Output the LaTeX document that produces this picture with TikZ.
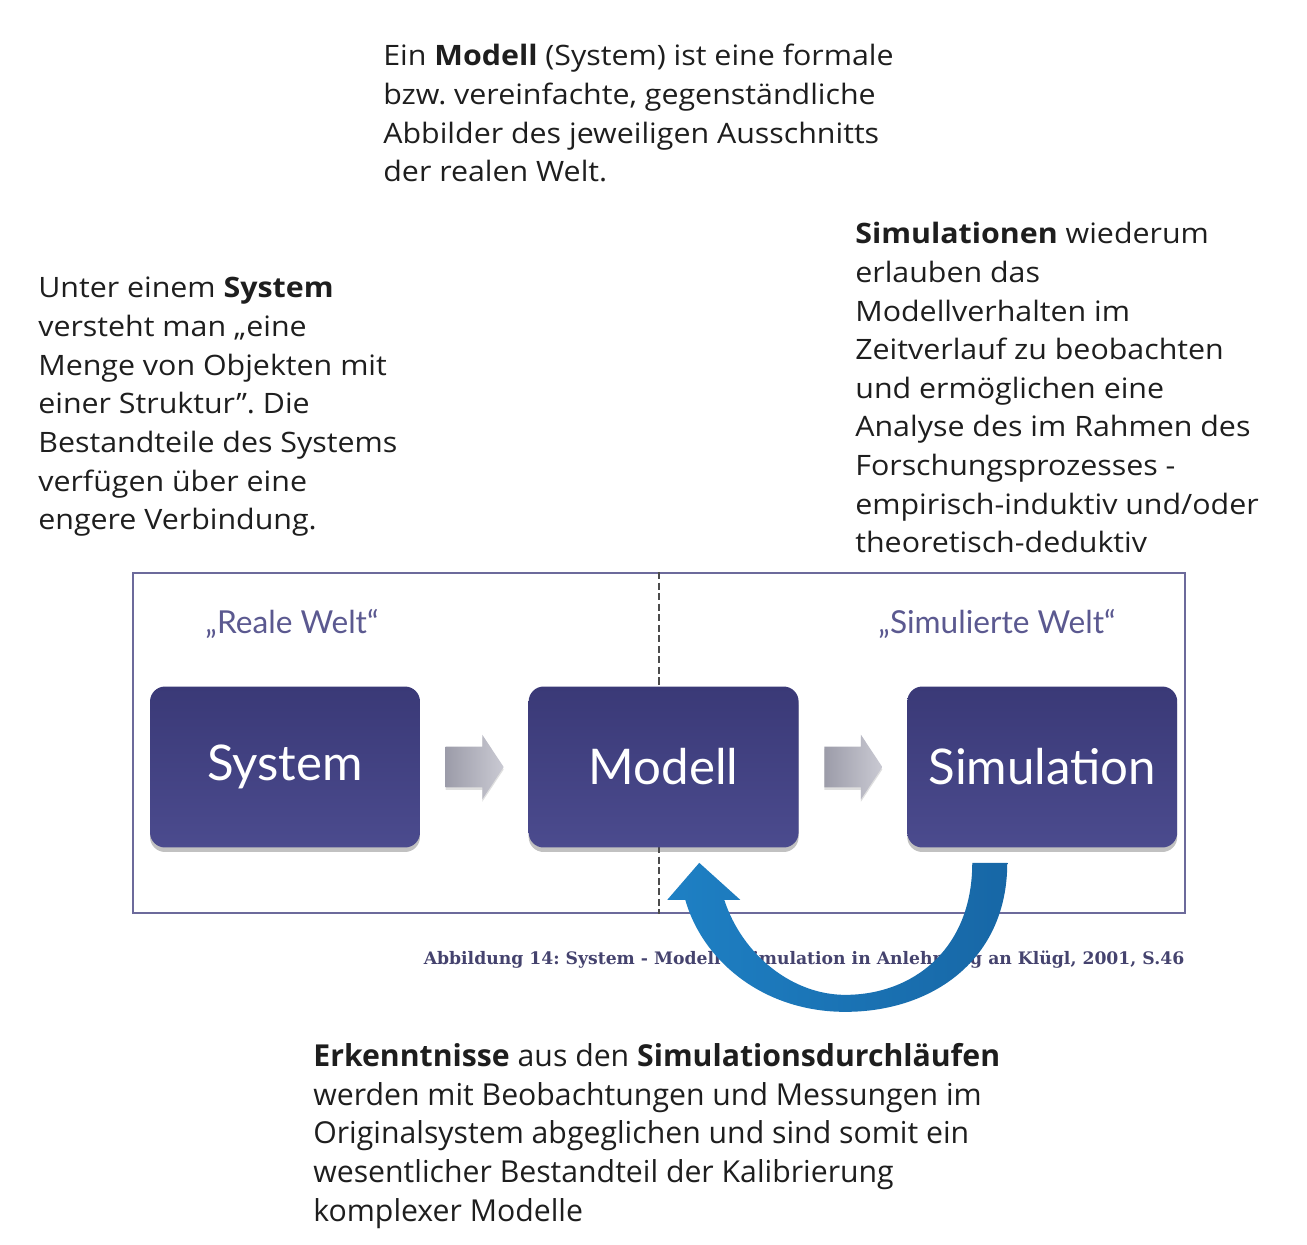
\documentclass[tikz,border=0pt]{standalone}
\usepackage{fontspec}
\usepackage{xcolor}
\usepackage{tikz}
\usetikzlibrary{positioning,calc,shapes.arrows,shadows}
\setmainfont[FakeStretch=1.08]{Open Sans}
\newfontfamily\widenote{Open Sans}
\newfontfamily\stagefont{Lato}
\newfontfamily\capfont{DejaVu Serif}
\frenchspacing
\definecolor{notegray}{HTML}{1E1E1E}
\definecolor{stagetop}{HTML}{3A3977}
\definecolor{stagebottom}{HTML}{4B4B8E}
\definecolor{framepurple}{HTML}{6C6A9B}
\definecolor{worldpurple}{HTML}{5B5990}
\definecolor{capturple}{HTML}{45436E}
\definecolor{arrowgrayA}{HTML}{9C9CA9}
\definecolor{arrowgrayB}{HTML}{CACAD3}
\definecolor{feedbackblue}{HTML}{1E80C4}
\definecolor{feedbackdark}{HTML}{1767A6}

\begin{document}
\begin{tikzpicture}[
  x=0.02cm, y=-0.02cm,
  note/.style={anchor=north west, inner sep=0pt, align=left, text=notegray, font=\fontsize{16}{22}\selectfont},
  stage/.style={rounded corners=0.3cm, minimum width=5.4cm, minimum height=3.22cm, top color=stagetop, bottom color=stagebottom, text=white, font=\stagefont\fontsize{28}{32}\selectfont, drop shadow={shadow xshift=0pt, shadow yshift=-0.09cm, opacity=0.35, fill=black!70}},
  flowarrow/.style={single arrow, inner ysep=0.4cm, inner xsep=0pt, single arrow head extend=0.24cm, single arrow tip angle=113, minimum height=1.16cm, left color=arrowgrayA, right color=arrowgrayB, drop shadow={shadow xshift=0pt, shadow yshift=-0.05cm, opacity=0.25}},
  world/.style={text=worldpurple, font=\stagefont\fontsize{18}{20}\selectfont},
  frame/.style={draw=framepurple, line width=1.1pt, minimum width=21.04cm, minimum height=6.8cm, inner sep=0pt}
]
\useasboundingbox (0,0) rectangle (1307,1244);

% texts round the diagram
\node[note] (modelltext) at (383,44) {Ein \textbf{Modell} (System) ist eine formale\\bzw. vereinfachte, gegenständliche\\Abbilder des jeweiligen Ausschnitts\\der realen Welt.};
\node[note] (systemtext) at (38,277) {Unter einem \textbf{System}\\versteht man „eine\\Menge von Objekten mit\\einer Struktur”. Die\\Bestandteile des Systems\\verfügen über eine\\engere Verbindung.};
\node[note] (simtext) at (855,222) {\textbf{Simulationen} wiederum\\erlauben das\\Modellverhalten im\\Zeitverlauf zu beobachten\\und ermöglichen eine\\Analyse des im Rahmen des\\Forschungsprozesses -\\empirisch-induktiv und/oder\\theoretisch-deduktiv};

% frame with the two worlds
\node[frame] (frame) at (659,743) {};
\draw[black!70, line width=1.1pt, dash pattern=on 4pt off 2pt] (frame.north) -- (frame.south);
\node[world] (real) at (292,624) {„Reale Welt“};
\node[world] (simulated) at (997,624) {„Simulierte Welt“};

\node[stage] (system) at (285,767) {System};
\node[stage, right=2.16cm of system] (modell) {Modell};
\node[stage, right=2.16cm of modell] (simulation) {Simulation};
\node[flowarrow, right=0.5cm of system] (arrowA) {};
\node[flowarrow, right=0.5cm of modell] (arrowB) {};

\node[text=capturple, font=\capfont\bfseries\fontsize{9.8}{11}\selectfont] (caption) at (804,960) {Abbildung 14: System - Modell - Simulation in Anlehnung an Klügl, 2001, S.46};

% feedback from simulation back to the model
\path[left color=feedbackblue, right color=feedbackdark] ($(simulation.south)+(-70,15)$) -- ++(35,0)
  .. controls +(0,97) and +(87,0) .. ++(-162,149)
  .. controls +(-83,0) and +(17,60) .. ++(-160,-112)
  -- ++(-18,0) -- ++(32,-37) -- ++(41,37) -- ++(-16,0)
  .. controls +(18,55) and +(-53,0) .. ++(121,95)
  .. controls +(67,0) and +(0,87) .. ++(127,-132) -- cycle;

\node[note, font=\widenote\fontsize{17.2}{22}\selectfont] (erkenntnis) at (313,1043) {\textbf{Erkenntnisse} aus den \textbf{Simulationsdurchläufen}\\werden mit Beobachtungen und Messungen im\\Originalsystem abgeglichen und sind somit ein\\wesentlicher Bestandteil der Kalibrierung\\komplexer Modelle};
\end{tikzpicture}
\end{document}
